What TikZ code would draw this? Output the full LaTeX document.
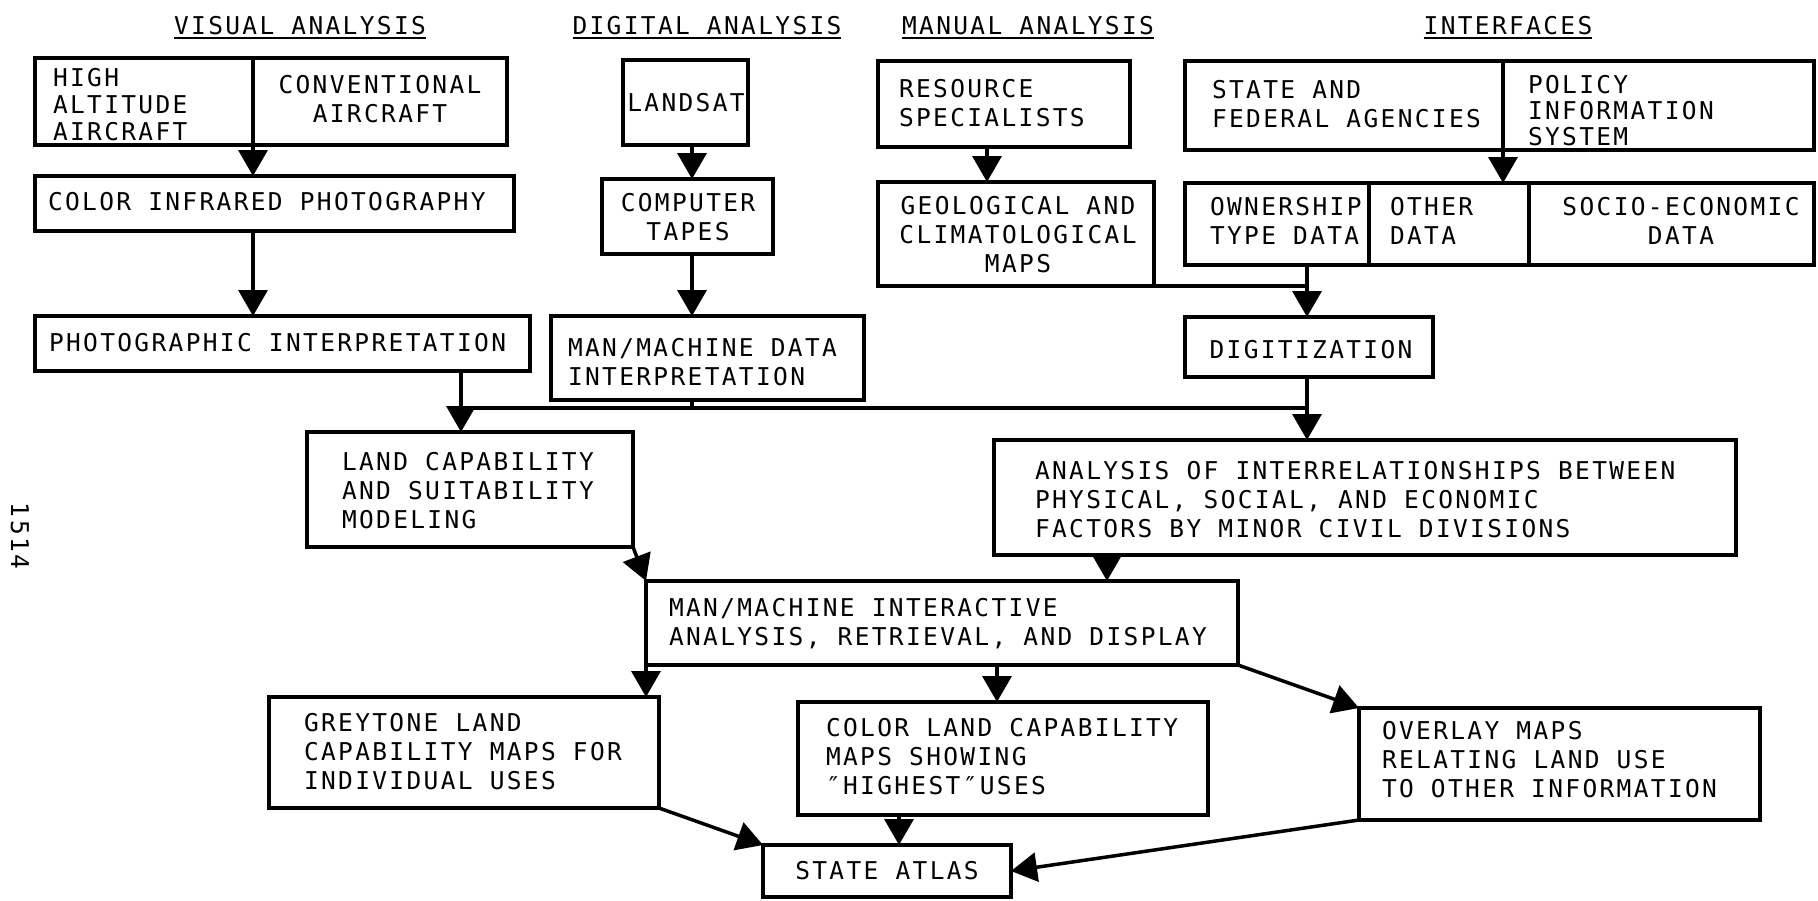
\documentclass[tikz,border=0pt]{standalone}
\usepackage{fontspec}
\newfontfamily\diagfont{DejaVu Sans Mono}[LetterSpace=9.6]
\usetikzlibrary{arrows.meta,fit}
\newcommand\dfont{\diagfont\fontsize{24.5}{29}\selectfont}
\begin{document}
\begin{tikzpicture}[x=1pt,y=-1pt,
  every node/.style={font=\dfont, inner sep=0pt, outer sep=0pt},
  bx/.style={draw, line width=4.5pt, fit={#1}},
  lt/.style={anchor=west, align=left},
  ct/.style={anchor=center, align=center},
  hd/.style={anchor=center},
  ln/.style={line width=3.5pt},
  ar/.style={line width=3.5pt, -{Triangle[length=26pt,width=29pt]}},
  ul/.style={line width=2pt}
]
\useasboundingbox (0,0) rectangle (1818,900);
\fill[white] (0,0) rectangle (1818,900);

% headings
\node[hd] (h1) at (300,26) {VISUAL ANALYSIS};
\node[hd] (h2) at (707,26) {DIGITAL ANALYSIS};
\node[hd] (h3) at (1028,26) {MANUAL ANALYSIS};
\node[hd] (h4) at (1508,26) {INTERFACES};
\draw[ul] ([yshift=-3pt]h1.south west) -- ([yshift=-3pt]h1.south east);
\draw[ul] ([yshift=-3pt]h2.south west) -- ([yshift=-3pt]h2.south east);
\draw[ul] ([yshift=-3pt]h3.south west) -- ([yshift=-3pt]h3.south east);
\draw[ul] ([yshift=-3pt]h4.south west) -- ([yshift=-3pt]h4.south east);

\node[rotate=-90] (pg) at (20,536) {1514};

% visual analysis
\node[bx={(35,58) (253,145)}] (hi) {};
\node[bx={(253,58) (507,145)}] (conv) {};
\node[lt] (hit) at (53,105) {HIGH\\[-2pt]ALTITUDE\\[-2pt]AIRCRAFT};
\node[ct] (convt) at (380,99) {CONVENTIONAL\\AIRCRAFT};
\node[bx={(35,176) (514,231)}] (cir) {};
\node[lt] (cirt) at (48,202) {COLOR INFRARED PHOTOGRAPHY};
\node[bx={(35,316) (530,371)}] (ph) {};
\node[lt] (pht) at (49,343) {PHOTOGRAPHIC INTERPRETATION};

% digital analysis
\node[bx={(623,60) (748,145)}] (ls) {};
\node[ct] (lst) at (686,103) {LANDSAT};
\node[bx={(602,179) (773,254)}] (ctp) {};
\node[ct] (ctpt) at (688,217) {COMPUTER\\TAPES};
\node[bx={(551,316) (864,400)}] (mmd) {};
\node[lt] (mmdt) at (568,362) {MAN/MACHINE DATA\\INTERPRETATION};

% manual analysis
\node[bx={(878,61) (1130,147)}] (res) {};
\node[lt] (rest) at (899,103) {RESOURCE\\SPECIALISTS};
\node[bx={(878,182) (1154,286)}] (geo) {};
\node[ct] (geot) at (1018,235) {GEOLOGICAL AND\\CLIMATOLOGICAL\\MAPS};

% interfaces
\node[bx={(1185,61) (1503,150)}] (sfa) {};
\node[lt] (sfat) at (1212,104) {STATE AND\\FEDERAL AGENCIES};
\node[bx={(1503,61) (1814,150)}] (pol) {};
\node[lt] (polt) at (1528,111) {POLICY\\[-3pt]INFORMATION\\[-3pt]SYSTEM};
\node[bx={(1185,183) (1369,265)}] (own) {};
\node[lt] (ownt) at (1210,221) {OWNERSHIP\\TYPE DATA};
\node[bx={(1369,183) (1529,265)}] (oth) {};
\node[lt] (otht) at (1390,221) {OTHER\\DATA};
\node[bx={(1529,183) (1814,265)}] (soc) {};
\node[ct] (soct) at (1681,221) {SOCIO-ECONOMIC\\DATA};
\node[bx={(1185,317) (1433,377)}] (dig) {};
\node[ct] (digt) at (1311,350) {DIGITIZATION};

% lower part
\node[bx={(307,432) (633,547)}] (lc) {};
\node[lt] (lct) at (342,491) {LAND CAPABILITY\\AND SUITABILITY\\MODELING};
\node[bx={(994,440) (1736,555)}] (an) {};
\node[lt] (ant) at (1035,500) {ANALYSIS OF INTERRELATIONSHIPS BETWEEN\\PHYSICAL, SOCIAL, AND ECONOMIC\\FACTORS BY MINOR CIVIL DIVISIONS};
\node[bx={(646,581) (1238,665)}] (ia) {};
\node[lt] (iat) at (669,624) {MAN/MACHINE INTERACTIVE\\ANALYSIS, RETRIEVAL, AND DISPLAY};
\node[bx={(269,697) (659,808)}] (gr) {};
\node[lt] (grt) at (304,752) {GREYTONE LAND\\CAPABILITY MAPS FOR\\INDIVIDUAL USES};
\node[bx={(798,702) (1208,815)}] (cl) {};
\node[lt] (clt) at (826,757) {COLOR LAND CAPABILITY\\MAPS SHOWING\\″HIGHEST″USES};
\node[bx={(1359,708) (1760,820)}] (ov) {};
\node[lt] (ovt) at (1382,760) {OVERLAY MAPS\\RELATING LAND USE\\TO OTHER INFORMATION};
\node[bx={(763,845) (1011,897)}] (sa) {};
\node[ct] (sat) at (887,871) {STATE ATLAS};

% helper coordinates
\coordinate (j1) at (461,408);
\coordinate (j2) at (1307,408);
\coordinate (dc) at (692,0);
\coordinate (mc) at (987,0);
\coordinate (ac) at (1107,0);
\coordinate (cc) at (997,0);
\coordinate (sc) at (899,0);

% connectors
\draw[ar] (hi.south east) -- (hi.south east |- cir.north);
\draw[ar] (hi.east |- cir.south) -- (hi.east |- ph.north);
\draw[ar] (j1 |- ph.south) -- (j1 |- lc.north);
\draw[ln] (j1) -- (j2);
\draw[ar] (dc |- ls.south) -- (dc |- ctp.north);
\draw[ar] (dc |- ctp.south) -- (dc |- mmd.north);
\draw[ln] (dc |- mmd.south) -- (dc |- j1);
\draw[ar] (mc |- res.south) -- (mc |- geo.north);
\draw[ar] (sfa.south east) -- (sfa.south east |- oth.north);
\draw[ln] (geo.south east) -- (j2 |- geo.south east);
\draw[ar] (j2 |- own.south) -- (j2 |- dig.north);
\draw[ar] (j2 |- dig.south) -- (j2 |- an.north);
\draw[ar] (lc.south east) -- (ia.north west);
\draw[ar] (ac |- an.south) -- (ac |- ia.north);
\draw[ar] (ia.south west) -- (ia.south west |- gr.north);
\draw[ar] (cc |- ia.south) -- (cc |- cl.north);
\draw[ar] (ia.south east) -- (ov.north west);
\draw[ar] (gr.south east) -- (sa.north west);
\draw[ar] (sc |- cl.south) -- (sc |- sa.north);
\draw[ar] (ov.south west) -- (sa.east);
\end{tikzpicture}
\end{document}
